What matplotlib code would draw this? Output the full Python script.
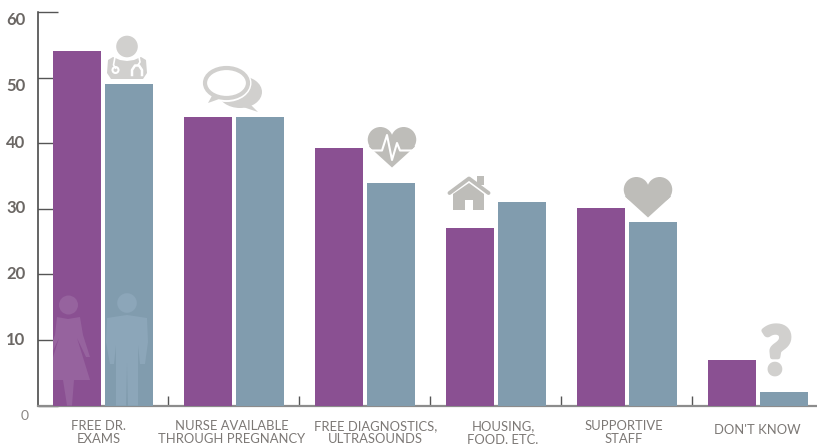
import numpy as np
import matplotlib
matplotlib.use('Agg')
from matplotlib import pyplot as plt
from matplotlib import patheffects as pe
from matplotlib.patches import Circle, Ellipse, Polygon, Rectangle

plt.rcParams['font.family'] = ['Lato', 'DejaVu Sans']

categories = ['FREE DR.\nEXAMS', 'NURSE AVAILABLE\nTHROUGH PREGNANCY', 'FREE DIAGNOSTICS,\nULTRASOUNDS',
              'HOUSING,\nFOOD, ETC.', 'SUPPORTIVE\nSTAFF', "DON'T KNOW"]
women = [54, 44, 39.3, 27, 30.1, 7]
men = [49, 44, 34, 31, 28, 2]
y_ticks = [0, 10, 20, 30, 40, 50, 60]

PURPLE = '#8a5092'
BLUE = '#819cae'
ICON = '#d1d0ce'
ICON_DARK = '#bebdb9'
TEXT = '#7c7875'

W, H = 817, 444
fig = plt.figure(figsize=(W / 100, H / 100), dpi=100)

# main axes, sized in pixels so the icons below line up with the bars
left, bottom, top = 37.5, 405.5, 12
step = 130.9
ax = fig.add_axes([left / W, (H - bottom) / H, (W - left) / W, (bottom - top) / H])
ax.set_xlim(-0.5, (W - left) / step - 0.5)
ax.set_ylim(0, 60)

x = np.arange(len(categories))
ax.bar(x - 0.198, women, width=0.367, color=PURPLE, zorder=3)
ax.bar(x + 0.2, men, width=0.367, color=BLUE, zorder=3)

for s in ['top', 'right']:
    ax.spines[s].set_visible(False)
ax.spines['left'].set_color('#3a3a3a')
ax.spines['left'].set_linewidth(1.1)
ax.spines['bottom'].set_color('#8c8c8c')
ax.spines['bottom'].set_linewidth(1.6)

ax.set_yticks(y_ticks)
ax.set_yticklabels([])
ax.tick_params(axis='y', direction='in', length=14.4, width=1.0, color='#555555')
ax.set_xticks(x[1:] - 0.5)
ax.set_xticklabels([])
ax.tick_params(axis='x', direction='in', length=7, width=1.0, color='#555555')

# y labels do not sit exactly on their ticks
nudge = {0: -10, 10: 0, 20: 0, 30: 1, 40: 0, 50: -8, 60: -8}
for v in y_ticks:
    ax.annotate(str(v), (0, v), xycoords=('axes fraction', 'data'),
                xytext=(-8.6 if v else -6.5, nudge[v] * 0.72), textcoords='offset points',
                ha='right', va='center', fontsize=12 if v else 10,
                color='#6b6764' if v else '#8a8683', fontweight='bold' if v else 'normal',
                annotation_clip=False)

# category labels drift a little off their bar pairs, shifts in pixels
label_shift = [-4, -2, 11, 7.5, -2.5, 0]
for i, name in enumerate(categories):
    ypos = -0.036 if '\n' in name else -0.047
    ax.text(i + label_shift[i] / step, ypos, name, transform=ax.get_xaxis_transform(), ha='center', va='top',
            fontsize=9.4, color=TEXT, linespacing=1.18)

# overlay for the icons, y runs downward in pixels
ov = fig.add_axes([0, 0, 1, 1], facecolor='none')
ov.set_xlim(0, W)
ov.set_ylim(H, 0)
ov.axis('off')


def heart(cx, ytop, w, h):
    # two round lobes on a wedge
    r = w * 0.26
    cy = ytop + r
    for side in (-1, 1):
        ov.add_patch(Circle((cx + side * (w / 2 - r), cy), r, fc=ICON_DARK, ec='none'))
    ov.add_patch(Polygon([(cx - w / 2 + 1.2, cy + r * 0.55), (cx, ytop + h), (cx + w / 2 - 1.2, cy + r * 0.55),
                          (cx + w * 0.2, cy - r * 0.3), (cx, cy - r * 0.35), (cx - w * 0.2, cy - r * 0.3)],
                         fc=ICON_DARK, ec='none'))


# doctor
ov.add_patch(Circle((127, 46.5), 10.8, fc=ICON, ec='none'))
body = [(113, 57), (120, 60), (127, 61), (134, 60), (141, 57), (146, 60), (147, 73), (143, 79), (111, 79), (107, 73), (108, 60)]
ov.add_patch(Polygon(body, closed=True, fc=ICON, ec='none', joinstyle='round'))
ov.plot([115, 113.5, 115.5], [57, 65, 68], color='white', lw=1.2)
ov.add_patch(Circle((115.5, 70), 3, fc='none', ec='white', lw=1.5))
ov.plot([132, 132, 135, 139, 142, 142], [75, 70, 65.5, 65.5, 70, 75], color='white', lw=1.8)
ov.plot([139, 140, 138], [57, 62, 65], color='white', lw=1.2)

# speech bubbles
ov.add_patch(Ellipse((240, 92), 44, 32, fc=ICON, ec='none'))
ov.add_patch(Polygon([(246, 100), (258, 112), (240, 106)], fc=ICON, ec='none'))
ov.add_patch(Ellipse((226.5, 83), 50, 38, fc='white', ec='none'))
ov.add_patch(Polygon([(212, 95), (206, 106), (226, 100)], fc='white', ec='none'))
ov.add_patch(Ellipse((226.5, 83), 43, 30, fc='white', ec=ICON, lw=3))
ov.add_patch(Polygon([(213, 94), (208, 103), (222, 98), (219, 96)], fc=ICON, ec='none'))

# heart with pulse trace
heart(392, 127, 48.5, 40.5)
ov.plot([372, 382, 387, 392, 397, 400, 412], [150.5, 150.5, 135, 160, 143, 150.5, 150.5], color='white', lw=1.5)

# house
ov.plot([449.5, 469, 488.5], [193, 178.5, 193], color=ICON_DARK, lw=2.8, solid_capstyle='round')
ov.add_patch(Rectangle((477, 176), 7, 9, fc=ICON_DARK, ec='none'))
ov.add_patch(Polygon([(453, 194), (469, 183), (484, 194), (484, 210), (473, 210), (473, 200), (465, 200), (465, 210), (453, 210)],
                     fc=ICON_DARK, ec='none'))

# plain heart
heart(648, 177, 48.5, 40.5)

# question mark
ov.text(776.5, 355, '?', fontsize=47, fontweight='bold', color=ICON, ha='center', va='center',
        path_effects=[pe.withStroke(linewidth=3.5, foreground=ICON)])

# woman and man silhouettes inside the first pair of bars
wc = '#96639e'
clip_w = Rectangle((53, 51), 48, 354.5, transform=ov.transData)
woman_parts = [Circle((68.5, 305), 9.5, fc=wc, ec='none'),
               Polygon([(57, 317), (68, 319), (80, 317), (83, 335), (90, 357), (86, 357), (77, 338), (90, 380),
                        (74, 380), (72, 405.5), (67, 405.5), (63, 380), (46, 380), (59, 338), (50, 357), (46, 357), (55, 335)],
                       fc=wc, ec='none')]
for p in woman_parts:
    ov.add_patch(p)
    p.set_clip_path(clip_w)

mc = '#8ca6b9'
ov.add_patch(Circle((127, 303), 9.8, fc=mc, ec='none'))
ov.add_patch(Polygon([(107, 318), (120, 316), (127, 315), (134, 316), (147, 318), (148, 342), (145, 364), (140, 364), (138, 345),
                      (138, 405.5), (128, 405.5), (127, 363), (126, 405.5), (116, 405.5), (116, 345), (114, 364), (110, 364), (106, 342)],
                     fc=mc, ec='none'))

fig.savefig('out.png', dpi=100)
